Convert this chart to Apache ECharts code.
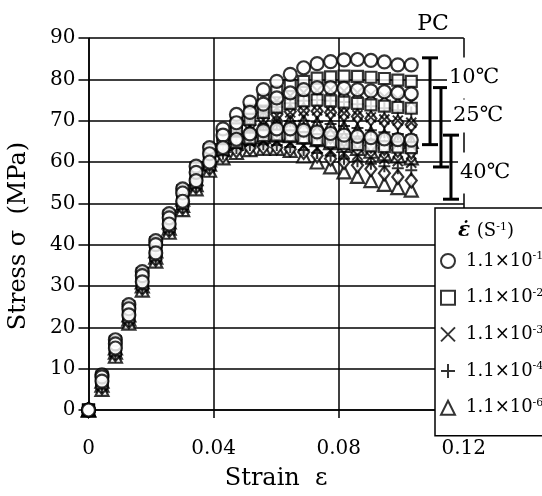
<!DOCTYPE html>
<html><head><meta charset="utf-8">
<script src="https://cdn.jsdelivr.net/npm/echarts@6/dist/echarts.min.js"></script>
<style>html,body{margin:0;padding:0;background:#fff}#c{width:542px;height:496px}</style>
</head><body><div id="c"></div>
<script>
// ---- data ----
const strain = [0, 0.0043, 0.0086, 0.0129, 0.0172, 0.0215, 0.0258, 0.0301, 0.0344, 0.0387, 0.043, 0.0473, 0.0516, 0.0559, 0.0602, 0.0645, 0.0688, 0.0731, 0.0774, 0.0817, 0.086, 0.0903, 0.0946, 0.0989, 0.1032];

const circle10   = [0, 8.5, 17, 25.5, 33.5, 41, 47.5, 53.5, 59, 63.5, 68, 71.5, 74.5, 77.5, 79.5, 81.2, 82.8, 83.8, 84.3, 84.7, 84.8, 84.6, 84.2, 83.5, 83.5];
const square10   = [0, 8, 16.5, 25, 33, 40.5, 47, 53, 58.5, 63, 66.5, 69.5, 72.5, 75, 77, 78.5, 79.5, 80.3, 80.6, 80.8, 80.7, 80.5, 80.2, 79.8, 79.5];
const cross10    = [0, 7.5, 16, 24, 32, 39.5, 46.5, 52, 57.5, 62, 65.5, 68.5, 71, 73, 74.8, 76, 76.8, 77.3, 77.5, 77.2, 76.8, 76.3, 75.8, 75.3, 74.5];
const plus10     = [0, 7.5, 15.5, 24, 32, 39, 46, 52, 57, 61.5, 65, 67.5, 70, 72, 73.3, 74.2, 74.8, 75, 74.8, 74.5, 74, 73.5, 73, 72.5, 72];
const diamond10  = [0, 7, 15, 23, 31, 38.5, 45.5, 51, 56, 61, 64.5, 67, 69, 70.5, 71.5, 72.2, 72.5, 72.3, 72, 71.5, 71, 70.5, 70, 69.5, 69];
const triangle10 = [0, 7, 15, 23, 31, 38.5, 45.5, 51, 56, 60.5, 64, 66, 67.5, 68.7, 69.5, 70, 69.8, 69.3, 68.8, 68.3, 67.7, 67, 66.3, 65.5, 65];

const circle25   = [0, 8, 16, 24.5, 32.5, 40, 46.5, 52.5, 57.5, 62, 66.5, 69.5, 72, 74, 75.5, 76.7, 77.5, 78, 78, 77.8, 77.5, 77.2, 77, 76.7, 76.5];
const square25   = [0, 7.5, 15.5, 24, 32, 39, 46, 51.5, 57, 61.5, 65.5, 68, 70.3, 72, 73.3, 74.2, 74.8, 75, 74.8, 74.5, 74.2, 73.8, 73.5, 73.2, 73];
const cross25    = [0, 7, 15, 23, 31, 38.5, 45.5, 51, 56, 61, 64.5, 67, 68.8, 70.2, 71.3, 72, 72.4, 72.5, 72.2, 71.8, 71.3, 70.8, 70.3, 70, 69.5];
const plus25     = [0, 6.5, 14.5, 22.5, 30.5, 38, 45, 50.5, 55.5, 60.5, 64, 66, 67.7, 68.8, 69.5, 69.9, 70, 69.7, 69.2, 68.7, 68.2, 67.7, 67.2, 66.8, 66.5];
const diamond25  = [0, 6, 14, 22, 30, 37.5, 44.5, 50, 55, 60, 63.5, 65.2, 66.5, 67.3, 67.8, 68, 67.7, 67, 66.2, 65.4, 64.7, 64, 63.4, 62.9, 62.5];
const triangle25 = [0, 6, 14, 22, 30, 37, 44, 49.5, 54.5, 59.5, 63, 64.5, 65.5, 66.2, 66.5, 66.4, 66, 65.4, 64.7, 64, 63.3, 62.6, 62, 61.5, 61];

const circle40   = [0, 7, 15, 23, 31, 38, 45, 50.5, 55.5, 60, 63.5, 65.5, 66.8, 67.6, 68, 68, 67.7, 67.3, 66.9, 66.5, 66.2, 65.9, 65.6, 65.4, 65.3];
const square40   = [0, 6.5, 14.5, 22.5, 30.5, 37.5, 44.5, 50, 55, 59.5, 63, 64.8, 65.8, 66.4, 66.5, 66.3, 65.9, 65.4, 64.9, 64.5, 64.2, 63.9, 63.7, 63.6, 63.5];
const cross40    = [0, 6, 14, 22, 30, 37, 44, 49.5, 54.5, 59, 62.5, 64, 64.8, 65.1, 65, 64.6, 64, 63.4, 62.8, 62.2, 61.7, 61.2, 60.7, 60.2, 59.8];
const plus40     = [0, 5.5, 13.5, 21.5, 29.5, 36.5, 43.5, 49, 54, 58.5, 62, 63.4, 64.1, 64.3, 64.1, 63.6, 62.9, 62.2, 61.5, 60.8, 60.2, 59.6, 59, 58.5, 58];
const diamond40  = [0, 5.5, 13.5, 21.5, 29.5, 36.5, 43.5, 49, 54, 58.5, 61.5, 62.8, 63.4, 63.6, 63.5, 63.1, 62.4, 61.6, 60.8, 60, 59.2, 58.3, 57.3, 56.4, 55.5];
const triangle40 = [0, 5, 13, 21, 29, 36, 43, 48.5, 53.5, 58, 61, 62.3, 63, 63.3, 63.3, 62.8, 61.5, 60, 58.8, 57.6, 56.5, 55.5, 54.6, 53.8, 53.2];

// range bars per temperature
const tempLabels = ['10℃', '25℃', '40℃'];
const barStrain = [0.1092, 0.1127, 0.1159];
const barLow  = [64.2, 58.8, 51];
const barHigh = [85.2, 78, 66.5];

const rateNames = ['1.1×10⁻¹', '1.1×10⁻²', '1.1×10⁻³', '1.1×10⁻⁴', '1.1×10⁻⁵', '1.1×10⁻⁶'];
const legendNames = ['1.1×10⁻¹', '1.1×10⁻²', '1.1×10⁻³', '1.1×10⁻⁴', '1.1×10⁻⁶'];
const xTicks = ['0', '0.04', '0.08', '0.12'];

// ---- chart ----
const FONT = 'DejaVu Serif';
function pts(arrs) {
  const out = [];
  arrs.forEach(a => a.forEach((v, i) => out.push([strain[i], v])));
  return out;
}
const hollow = { color: '#fff', borderColor: '#000', borderWidth: 2.2 };
const stroke = { color: 'rgba(0,0,0,0)', borderColor: '#000', borderWidth: 2 };

const markerSeries = [
  { name: rateNames[5], symbol: 'triangle', symbolSize: 13, itemStyle: hollow, data: pts([triangle10, triangle25, triangle40]) },
  { name: rateNames[4], symbol: 'diamond', symbolSize: [11, 14], itemStyle: hollow, data: pts([diamond10, diamond25, diamond40]) },
  { name: rateNames[3], symbol: 'path://M5,0L5,10M0,5L10,5', symbolSize: 12, itemStyle: stroke, data: pts([plus10, plus25, plus40]) },
  { name: rateNames[2], symbol: 'path://M0,0L10,10M10,0L0,10', symbolSize: 10, itemStyle: stroke, data: pts([cross10, cross25, cross40]) },
  { name: rateNames[1], symbol: 'rect', symbolSize: 11, itemStyle: hollow, data: pts([square10, square25, square40]) },
  { name: rateNames[0], symbol: 'circle', symbolSize: 13, itemStyle: hollow, data: pts([circle10, circle25, circle40]) }
].map(s => Object.assign({ type: 'scatter', z: 3, silent: true }, s));

const supMap = { '⁻¹': '-1', '⁻²': '-2', '⁻³': '-3', '⁻⁴': '-4', '⁻⁵': '-5', '⁻⁶': '-6' };

const option = {
  backgroundColor: '#fff',
  animation: false,
  grid: { left: 88.5, right: 78.2, top: 38, bottom: 86 },
  xAxis: {
    type: 'value', min: 0, max: 0.12, interval: 0.04,
    name: 'Strain  ε', nameLocation: 'middle', nameGap: 57,
    nameTextStyle: { fontFamily: FONT, fontSize: 24, color: '#000' },
    axisLine: { lineStyle: { color: '#000', width: 1.5 } },
    axisTick: { length: 8, lineStyle: { color: '#000', width: 1.5 } },
    axisLabel: { margin: 29, fontFamily: FONT, fontSize: 20, color: '#000',
      formatter: v => xTicks[Math.round(v / 0.04)] },
    splitLine: { show: true, lineStyle: { color: '#000', width: 1.5 } }
  },
  yAxis: {
    type: 'value', min: 0, max: 90, interval: 10,
    axisLine: { lineStyle: { color: '#000', width: 1.5 } },
    axisTick: { length: 10, lineStyle: { color: '#000', width: 1.5 } },
    axisLabel: { margin: 13, fontFamily: FONT, fontSize: 20, color: '#000' },
    splitLine: { show: true, lineStyle: { color: '#000', width: 1.5 } }
  },
  legend: {
    data: legendNames, orient: 'vertical', left: 435, top: 208,
    selectedMode: false,
    padding: [43, 40, 18, 5],
    itemWidth: 14, itemHeight: 14, itemGap: 16.7,
    backgroundColor: '#fff', borderColor: '#000', borderWidth: 1.5,
    formatter: name => {
      const base = name.slice(0, 6), sup = supMap[name.slice(6)];
      return '{b|' + base + '}{s|' + sup + '}';
    },
    textStyle: {
      padding: [0, 0, 0, 6],
      rich: {
        b: { fontFamily: FONT, fontSize: 18, color: '#000', lineHeight: 20 },
        s: { fontFamily: FONT, fontSize: 11, color: '#000', lineHeight: 20, padding: [0, 0, 9, 0] }
      }
    },
    z: 10
  },
  graphic: [
    { type: 'text', x: 433, y: 24, z: 100, style: { text: 'PC', font: '22px "DejaVu Serif"', fill: '#000', align: 'center', verticalAlign: 'middle', textAlign: 'center', textVerticalAlign: 'middle' } },
    { type: 'text', x: 447, y: 78, z: 100, style: { text: tempLabels[0], font: '21px "DejaVu Serif"', fill: '#000', backgroundColor: '#fff', padding: [10, 3, 10, 2], verticalAlign: 'middle', textVerticalAlign: 'middle' } },
    { type: 'text', x: 451, y: 116, z: 100, style: { text: tempLabels[1], font: '21px "DejaVu Serif"', fill: '#000', backgroundColor: '#fff', padding: [6, 3, 6, 2], verticalAlign: 'middle', textVerticalAlign: 'middle' } },
    { type: 'text', x: 458, y: 173, z: 100, style: { text: tempLabels[2], font: '21px "DejaVu Serif"', fill: '#000', backgroundColor: '#fff', padding: [10, 3, 10, 2], verticalAlign: 'middle', textVerticalAlign: 'middle' } },
    { type: 'text', x: 19, y: 236, rotation: Math.PI / 2, z: 100, style: { text: 'Stress σ  (MPa)', font: '24px "DejaVu Serif"', fill: '#000', align: 'center', verticalAlign: 'middle', textAlign: 'center', textVerticalAlign: 'middle' } },
    { type: 'text', x: 458, y: 231, z: 100, style: {
        text: '{e|ε̇}  {t|(S}{u|-1}{t|)}', fill: '#000', verticalAlign: 'middle', textVerticalAlign: 'middle',
        rich: {
          e: { font: 'italic bold 20px "DejaVu Serif"', fill: '#000', lineHeight: 22 },
          t: { font: '18px "DejaVu Serif"', fill: '#000', lineHeight: 22 },
          u: { font: '11px "DejaVu Serif"', fill: '#000', lineHeight: 22, padding: [0, 0, 8, 0] }
        } } }
  ],
  series: markerSeries.concat([{
    type: 'custom', z: 5, silent: true,
    data: barStrain.map((x, i) => [x, barLow[i], barHigh[i]]),
    renderItem: (params, api) => {
      const x = api.value(0);
      const top = api.coord([x, api.value(2)]);
      const bot = api.coord([x, api.value(1)]);
      const w = 8, st = { stroke: '#000', lineWidth: 3 };
      return { type: 'group', children: [
        { type: 'line', shape: { x1: top[0], y1: top[1], x2: bot[0], y2: bot[1] }, style: st },
        { type: 'line', shape: { x1: top[0] - w, y1: top[1], x2: top[0] + w, y2: top[1] }, style: st },
        { type: 'line', shape: { x1: bot[0] - w, y1: bot[1], x2: bot[0] + w, y2: bot[1] }, style: st }
      ] };
    }
  }])
};
const chart = echarts.init(document.getElementById('c'));
chart.setOption(option);
</script></body></html>
